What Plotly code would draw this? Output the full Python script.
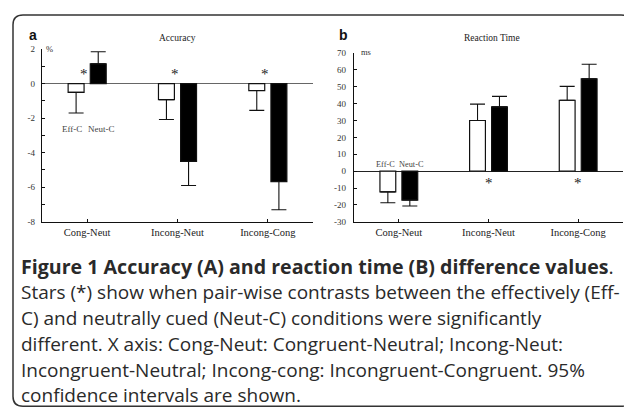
import plotly.graph_objects as go

W, H = 632, 412
OFF = 8  # page body margin offset compensation

categories = ["Cong-Neut", "Incong-Neut", "Incong-Cong"]

# Panel a: accuracy difference (%)
eff_acc = [-0.5, -0.93, -0.4]
eff_acc_ci = [1.2, 1.15, 1.15]
neut_acc = [1.15, -4.5, -5.67]
neut_acc_ci = [0.7, 1.4, 1.63]
acc_ticks = [2, 0, -2, -4, -6, -8]

# Panel b: reaction time difference (ms)
eff_rt = [-12.3, 30.0, 42.0]
eff_rt_ci = [6.4, 9.7, 8.2]
neut_rt = [-17.1, 38.1, 54.7]
neut_rt_ci = [3.5, 6.2, 8.6]
rt_ticks = [70, 60, 50, 40, 30, 20, 10, 0, -10, -20, -30]

acc_stars = ["Cong-Neut", "Incong-Neut", "Incong-Cong"]
rt_stars = ["Incong-Neut", "Incong-Cong"]

caption_lines = [
    "<b>Figure 1 Accuracy (A) and reaction time (B) difference values</b>.",
    "Stars (*) show when pair-wise contrasts between the effectively (Eff-",
    "C) and neutrally cued (Neut-C) conditions were significantly",
    "different. X axis: Cong-Neut: Congruent-Neutral; Incong-Neut:",
    "Incongruent-Neutral; Incong-cong: Incongruent-Congruent. 95%",
    "confidence intervals are shown.",
]


def px(x):
    return (x - OFF) / W


def py(y):
    return 1 - (y - OFF) / H


def away(vals, ci):
    plus = [c if v >= 0 else 0 for v, c in zip(vals, ci)]
    minus = [c if v < 0 else 0 for v, c in zip(vals, ci)]
    return plus, minus


SERIF = "Liberation Serif"
fig = go.Figure()


def add_bars(vals, ci, fill, name, xa, ya):
    plus, minus = away(vals, ci)
    fig.add_trace(go.Bar(
        x=categories, y=vals, name=name, xaxis=xa, yaxis=ya,
        marker=dict(color=fill, line=dict(color="#111", width=1.2)),
        error_y=dict(type="data", symmetric=False, array=plus, arrayminus=minus,
                     color="#111", thickness=1.1, width=7.5),
        showlegend=False,
    ))


add_bars(eff_acc, eff_acc_ci, "white", "Eff-C", "x", "y")
add_bars(neut_acc, neut_acc_ci, "black", "Neut-C", "x", "y")
add_bars(eff_rt, eff_rt_ci, "white", "Eff-C", "x2", "y2")
add_bars(neut_rt, neut_rt_ci, "black", "Neut-C", "x2", "y2")

axis_common = dict(showline=True, linecolor="#111", linewidth=1.2, showgrid=False,
                   ticks="inside", ticklen=3, tickcolor="#111",
                   tickfont=dict(family=SERIF, size=9, color="#333"))
xfont = dict(family=SERIF, size=10.5, color="#222")

fig.update_layout(
    width=W, height=H, margin=dict(l=0, r=0, t=0, b=0),
    paper_bgcolor="white", plot_bgcolor="white",
    barmode="group", bargap=0.51, bargroupgap=0.28,
    xaxis=dict(domain=[px(42), px(313)], anchor="y", type="category",
               range=[-0.5, 2.5], **{**axis_common, "tickfont": xfont}),
    yaxis=dict(domain=[py(222), py(45)], anchor="x", range=[-8, 2],
               tickvals=acc_ticks, ticktext=[str(t) for t in acc_ticks],
               zeroline=True, zerolinecolor="#666", zerolinewidth=1.2,
               minor=dict(dtick=1, ticks="inside", ticklen=3, tickcolor="#111", tick0=0),
               ticklabelstandoff=4, **axis_common),
    xaxis2=dict(domain=[px(354), px(623)], anchor="y2", type="category",
                range=[-0.5, 2.5], **{**axis_common, "tickfont": xfont}),
    yaxis2=dict(domain=[py(222), py(49)], anchor="x2", range=[-30, 70],
                tickvals=rt_ticks, ticktext=[str(t) for t in rt_ticks],
                zeroline=True, zerolinecolor="#222", zerolinewidth=1.2,
                ticklabelstandoff=5, **axis_common),
)

ann = []


def pann(x, y, text, font, xanchor="center"):
    ann.append(dict(x=px(x), y=py(y), xref="paper", yref="paper", text=text,
                    xanchor=xanchor, yanchor="middle", showarrow=False, font=font))


# panel letters and titles
pann(33, 31, "<b>a</b>", dict(family="Liberation Sans", size=14, color="#111"))
pann(343, 31, "<b>b</b>", dict(family="Liberation Sans", size=14, color="#111"))
pann(177, 34, "Accuracy", dict(family=SERIF, size=9.5, color="#222"))
pann(492, 34, "Reaction Time", dict(family=SERIF, size=9.5, color="#222"))
pann(50, 45, "%", dict(family=SERIF, size=8.5, color="#333"))
pann(366, 48, "ms", dict(family=SERIF, size=8.5, color="#333"))

# condition labels
for t, dx in (("Eff-C", -15), ("Neut-C", 14)):
    ann.append(dict(x="Cong-Neut", y=-2.6, xref="x", yref="y", text=t, xshift=dx,
                    xanchor="center", yanchor="middle",
                    showarrow=False, font=dict(family=SERIF, size=9, color="#444")))
for t, dx in (("Eff-C", -13), ("Neut-C", 13)):
    ann.append(dict(x="Cong-Neut", y=4.2, xref="x2", yref="y2", text=t, xshift=dx,
                    xanchor="center", yanchor="middle",
                    showarrow=False, font=dict(family=SERIF, size=8.3, color="#444")))
# significance stars
for c in acc_stars:
    ann.append(dict(x=c, y=0.55, xref="x", yref="y", text="*", xshift=-3,
                    xanchor="center", yanchor="middle",
                    showarrow=False, font=dict(family=SERIF, size=15, color="#222")))
for c in rt_stars:
    ann.append(dict(x=c, y=-7.3, xref="x2", yref="y2", text="*",
                    xanchor="center", yanchor="middle",
                    showarrow=False, font=dict(family=SERIF, size=15, color="#222")))
# caption
for i, line in enumerate(caption_lines):
    size = 19.6 if i == 0 else 19
    pann(19, 268 + i * 26.4, line,
         dict(family="Open Sans", size=size, color="#2a2a2a"), xanchor="left")
fig.update_layout(annotations=ann)

# rounded frame
r = 10
x0, y0, x1, y1 = 13, 10, 631, 411
path = (f"M {px(x0)},{py(y0 + r)} Q {px(x0)},{py(y0)} {px(x0 + r)},{py(y0)} "
        f"L {px(x1 - r)},{py(y0)} Q {px(x1)},{py(y0)} {px(x1)},{py(y0 + r)} "
        f"L {px(x1)},{py(y1 - r)} Q {px(x1)},{py(y1)} {px(x1 - r)},{py(y1)} "
        f"L {px(x0 + r)},{py(y1)} Q {px(x0)},{py(y1)} {px(x0)},{py(y1 - r)} Z")
fig.add_shape(type="path", path=path, xref="paper", yref="paper",
              line=dict(color="#333", width=1.5))

fig.write_html("out.html")
